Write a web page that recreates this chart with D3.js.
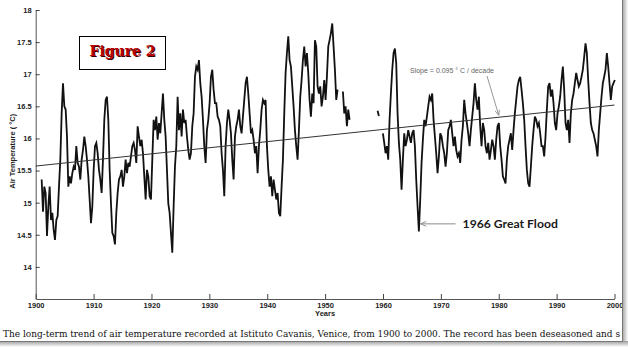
<!DOCTYPE html>
<html>
<head>
<meta charset="utf-8">
<script src="https://cdn.jsdelivr.net/npm/d3@7"></script>
<style>
  body { margin: 0; background: #fff; }
  svg { display: block; }
</style>
</head>
<body>
<svg id="chart" width="628" height="347"></svg>
<script>
// Axis ticks
const yTicks = [14, 14.5, 15, 15.5, 16, 16.5, 17, 17.5, 18];
const xTicks = [1900, 1910, 1920, 1930, 1940, 1950, 1960, 1970, 1980, 1990, 2000];

// Deseasoned air temperature (°C), regular time step; null = missing record
const startYear = 1901.03;
const stepYears = 0.2303;
const temps = [
  // 1901 - 1920
  15.36, 14.86, 15.25, 15.15, 14.48, 14.94, 15.25, 14.73, 14.84, 14.58,
  14.42, 14.73, 14.79, 15.25, 15.67, 16.39, 16.86, 16.50, 16.45, 16.03,
  15.25, 15.41, 15.30, 15.46, 15.56, 15.51, 15.88, 15.62, 15.56, 15.36,
  15.67, 15.82, 16.03, 15.88, 15.67, 15.41, 15.05, 14.68, 14.94, 15.51,
  15.88, 15.93, 15.77, 15.51, 15.36, 15.15, 15.67, 16.29, 16.60, 16.65,
  16.29, 15.51, 14.99, 14.53, 14.48, 14.35, 14.84, 15.15, 15.36, 15.41,
  15.51, 15.25, 15.41, 15.67, 15.46, 15.62, 15.56, 15.72, 15.88, 15.93,
  15.82, 15.62, 16.19, 16.03, 15.88, 15.98, 15.77, 15.41, 15.05, 15.51,
  15.41, 15.10,
  // 1920 - 1940
  15.05, 15.67, 16.29, 16.13, 16.34, 15.98, 16.24, 16.08, 16.39, 16.70,
  16.29, 16.03, 15.51, 14.99, 14.84, 14.53, 14.22, 14.94, 15.56, 15.88,
  16.65, 16.13, 16.39, 16.03, 16.45, 16.24, 16.29, 16.03, 15.82, 15.67,
  15.77, 16.19, 16.39, 16.96, 17.12, 17.07, 17.22, 16.86, 16.65, 16.29,
  15.88, 15.62, 16.13, 16.29, 16.55, 16.96, 17.07, 16.76, 16.55, 16.55,
  16.34, 16.29, 16.19, 15.77, 15.51, 15.10, 15.88, 16.24, 16.45, 16.29,
  16.08, 15.67, 15.36, 16.03, 16.19, 16.29, 16.45, 16.19, 16.08, 16.34,
  16.60, 16.86, 16.96, 16.70, 16.39, 16.08, 16.13, 15.98, 15.77, 15.88,
  15.46, 15.88, 16.13, 16.45, 16.60, 16.55, 16.60,
  // 1940 - 1960
  15.88, 15.51, 15.25, 15.41, 15.10, 15.36, 15.20, 15.05, 15.15, 14.84,
  14.79, 15.25, 15.67, 16.39, 17.02, 17.33, 17.59, 17.22, 17.12, 16.81,
  16.50, 16.13, 15.88, 15.67, 16.13, 16.65, 16.91, 17.22, 17.43, 17.12,
  17.33, 17.02, 16.60, 16.34, 16.70, 16.55, 17.53, 17.43, 16.81, 16.70,
  16.81, 16.50, 16.65, 16.91, 16.60, 16.96, 17.43, 17.53, 17.64, 17.79,
  17.43, 17.07, 16.60, 16.76, null, null, null, 16.73, 16.39, 16.50,
  16.19, 16.45, 16.29, null, null, null, null, null, null, null,
  null, null, null, null, null, null, null, null, null, null,
  null, null, null, 16.43, 16.35, null, null,
  // 1960 - 1980
  16.08, 15.93, 15.77, 15.88, 15.67, 16.29, 16.70, 17.07, 17.33, 17.40,
  17.17, 16.39, 15.93, 15.67, 15.20, 15.67, 16.08, 15.88, 15.98, 16.13,
  16.03, 15.93, 16.08, 16.13, 15.88, 15.36, 14.94, 14.55, 15.05, 15.62,
  15.98, 16.29, 16.19, 16.34, 16.50, 16.65, 16.60, 16.70, 16.29, 16.03,
  15.77, 15.46, 15.72, 16.08, 16.03, 15.88, 15.77, 15.56, 15.77, 16.13,
  16.19, 16.29, 16.08, 15.88, 16.03, 15.82, 15.72, 15.77, 15.62, 15.98,
  16.19, 16.60, 16.39, 16.24, 16.08, 15.88, 16.13, 16.34, 16.55, 16.86,
  16.60, 16.45, 16.65, 16.19, 15.88, 16.24, 16.13, 15.88, 15.77, 15.93,
  15.67, 15.82, 15.98, 15.88, 15.67, 15.98, 16.19,
  // 1980 - 2000
  16.24, 15.88, 15.67, 15.41, 15.36, 15.30, 15.67, 15.88, 15.98, 16.08,
  15.82, 16.13, 16.39, 16.60, 16.81, 16.91, 16.96, 16.76, 16.55, 16.29,
  15.88, 15.51, 15.30, 15.25, 15.56, 15.88, 16.13, 16.34, 16.29, 16.19,
  16.24, 16.08, 15.88, 15.88, 15.72, 16.03, 16.45, 16.81, 16.86, 16.65,
  16.76, 16.55, 16.24, 16.13, 16.39, 16.50, 16.65, 16.91, 17.12, 16.76,
  16.24, 16.13, 16.29, 15.93, 16.39, 16.60, 16.70, 16.86, 17.02, 16.91,
  16.81, 16.86, 16.96, 17.07, 17.27, 17.48, 17.33, 16.91, 16.55, 16.24,
  16.13, 16.08, 15.98, 15.88, 15.72, 16.13, 16.39, 16.65, 16.86, 16.96,
  17.07, 17.33, 17.12, 16.86, 16.60, 16.81, 16.86, 16.91
];

// Linear trend: value at 1900 and slope per decade
const trendYears = [1900, 2000];
const trendAt1900 = 15.57;
const trendSlopePerDecade = 0.095;

// Annotations
const slopeLabel = "Slope = 0.095 \u00B0 C / decade";
const slopeArrowYear = 1980;
const floodLabel = "1966 Great Flood";
const floodYear = 1966.5;
const floodTemp = 14.67;
const caption = "The long-term trend of air temperature recorded at Istituto Cavanis, Venice, from 1900 to 2000. The record has been deseasoned and s";

const svg = d3.select("#chart");
const W = 628, H = 347;

const x = d3.scaleLinear().domain([1900, 2000]).range([35.7, 614.5]);
const y = d3.scaleLinear().domain([13.5, 18]).range([299, 10]);

const defs = svg.append("defs");
defs.append("marker")
  .attr("id", "arrowGray")
  .attr("viewBox", "0 0 10 10")
  .attr("refX", 9).attr("refY", 5)
  .attr("markerWidth", 7).attr("markerHeight", 7)
  .attr("orient", "auto")
  .append("path")
  .attr("d", "M1,1.5 L9,5 L1,8.5")
  .attr("fill", "none").attr("stroke", "#8a8a8a").attr("stroke-width", 1.3);

const gradR = defs.append("linearGradient").attr("id", "shadeR").attr("x1", 0).attr("x2", 1).attr("y1", 0).attr("y2", 0);
gradR.append("stop").attr("offset", 0).attr("stop-color", "#9a9a9a");
gradR.append("stop").attr("offset", 1).attr("stop-color", "#ffffff");
const gradB = defs.append("linearGradient").attr("id", "shadeB").attr("x1", 0).attr("x2", 0).attr("y1", 0).attr("y2", 1);
gradB.append("stop").attr("offset", 0).attr("stop-color", "#9a9a9a");
gradB.append("stop").attr("offset", 1).attr("stop-color", "#ffffff");
defs.append("clipPath").attr("id", "frameClip")
  .append("rect").attr("x", 0).attr("y", 0).attr("width", 622).attr("height", 341);

svg.append("rect").attr("width", W).attr("height", H).attr("fill", "#fff");

const body = svg.append("g").attr("clip-path", "url(#frameClip)");

// Axes
const axisFont = "'Liberation Sans', Arial, sans-serif";
const yAxis = body.append("g")
  .attr("transform", `translate(${x(1900)},0)`)
  .call(d3.axisLeft(y).tickValues(yTicks).tickFormat(d3.format("")).tickSize(-4).tickSizeOuter(0).tickPadding(4));
const xAxis = body.append("g")
  .attr("transform", `translate(0,${y(13.5)})`)
  .call(d3.axisBottom(x).tickValues(xTicks).tickFormat(d3.format("d")).tickSize(-5).tickSizeOuter(0).tickPadding(3.5));
[yAxis, xAxis].forEach(g => {
  g.select(".domain").attr("stroke", "#555").attr("stroke-width", 1);
  g.selectAll(".tick line").attr("stroke", "#444").attr("stroke-width", 1);
  g.selectAll(".tick text").attr("fill", "#222").attr("font-family", axisFont)
    .attr("font-size", 7.5).attr("font-weight", "bold");
});

body.append("text")
  .attr("x", (x(1900) + x(2000)) / 2).attr("y", 316)
  .attr("text-anchor", "middle")
  .attr("font-family", axisFont).attr("font-size", 7.5).attr("font-weight", "bold").attr("fill", "#222")
  .text("Years");

body.append("text")
  .attr("transform", `translate(14.5,${y(15.8)}) rotate(-90)`)
  .attr("text-anchor", "middle")
  .attr("font-family", axisFont).attr("font-size", 7.5).attr("font-weight", "bold").attr("fill", "#222")
  .text("Air Temperature ( \u00B0C)");

// Temperature record
const series = temps.map((v, i) => ({ year: startYear + i * stepYears, temp: v }));
const line = d3.line()
  .defined(d => d.temp !== null)
  .x(d => x(d.year))
  .y(d => y(d.temp));
body.append("path")
  .datum(series)
  .attr("d", line)
  .attr("fill", "none")
  .attr("stroke", "#111")
  .attr("stroke-width", 1.8)
  .attr("stroke-linejoin", "miter");

// Trend line
const trend = trendYears.map(yr => ({ year: yr, temp: trendAt1900 + trendSlopePerDecade * (yr - 1900) / 10 }));
body.append("path")
  .datum(trend)
  .attr("d", d3.line().x(d => x(d.year)).y(d => y(d.temp)))
  .attr("fill", "none").attr("stroke", "#333").attr("stroke-width", 1);

// Slope annotation
body.append("text")
  .attr("x", 410).attr("y", 72.5)
  .attr("font-family", axisFont).attr("font-size", 7).attr("fill", "#666")
  .text(slopeLabel);
const slopeTip = trendAt1900 + trendSlopePerDecade * (slopeArrowYear - 1900) / 10;
body.append("line")
  .attr("x1", 487).attr("y1", 76)
  .attr("x2", x(slopeArrowYear)).attr("y2", y(slopeTip) - 2)
  .attr("stroke", "#8a8a8a").attr("stroke-width", 0.9)
  .attr("marker-end", "url(#arrowGray)");

// Flood annotation
body.append("line")
  .attr("x1", x(floodYear) + 35).attr("y1", y(floodTemp))
  .attr("x2", x(floodYear)).attr("y2", y(floodTemp))
  .attr("stroke", "#8a8a8a").attr("stroke-width", 1)
  .attr("marker-end", "url(#arrowGray)");
body.append("text")
  .attr("x", x(floodYear) + 42).attr("y", y(floodTemp) + 4.5)
  .attr("font-family", "Lato, 'Open Sans', sans-serif").attr("font-size", 12.2).attr("font-weight", "bold")
  .attr("fill", "#1a1a1a")
  .text(floodLabel);

// Figure badge
const badge = body.append("g");
badge.append("rect")
  .attr("x", 79.5).attr("y", 36.5).attr("width", 86).attr("height", 33)
  .attr("fill", "#fff").attr("stroke", "#000").attr("stroke-width", 1);
badge.append("text")
  .attr("x", 123.5).attr("y", 56.5)
  .attr("text-anchor", "middle")
  .attr("font-family", "'DejaVu Serif', serif").attr("font-size", 14).attr("font-weight", "bold")
  .attr("fill", "#3a0000")
  .text("Figure 2");
badge.append("text")
  .attr("x", 122.5).attr("y", 55.5)
  .attr("text-anchor", "middle")
  .attr("font-family", "'DejaVu Serif', serif").attr("font-size", 14).attr("font-weight", "bold")
  .attr("fill", "#b80000")
  .text("Figure 2");

// Caption
body.append("text")
  .attr("x", 3).attr("y", 337)
  .attr("font-family", "'DejaVu Serif', serif").attr("font-size", 8.6)
  .attr("fill", "#111")
  .attr("textLength", 617).attr("lengthAdjust", "spacingAndGlyphs")
  .text(caption);

// Page edge shading
svg.append("rect").attr("x", 622).attr("y", 0).attr("width", 6).attr("height", 347).attr("fill", "url(#shadeR)");
svg.append("rect").attr("x", 0).attr("y", 341).attr("width", 628).attr("height", 6).attr("fill", "url(#shadeB)");
svg.append("line").attr("x1", 622.5).attr("y1", 0).attr("x2", 622.5).attr("y2", 341.5).attr("stroke", "#777");
svg.append("line").attr("x1", 0).attr("y1", 341.5).attr("x2", 622.5).attr("y2", 341.5).attr("stroke", "#777");
</script>
</body>
</html>
